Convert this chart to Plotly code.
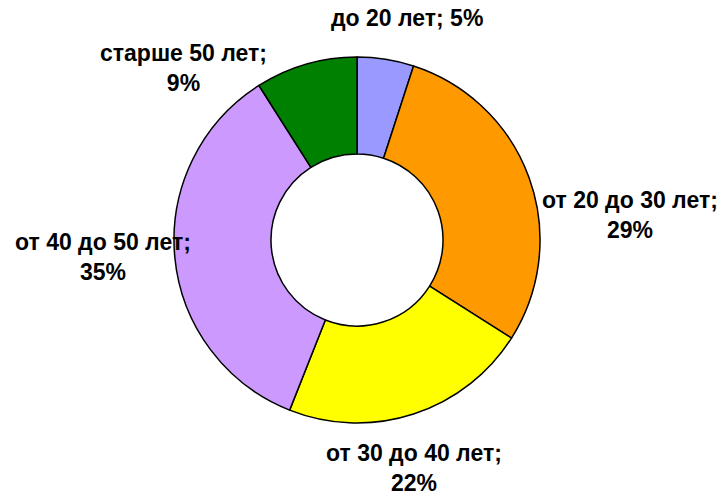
import plotly.graph_objects as go

# Age groups and their shares (%)
age_groups = ["до 20 лет", "от 20 до 30 лет", "от 30 до 40 лет", "от 40 до 50 лет", "старше 50 лет"]
shares = [5, 29, 22, 35, 9]
slice_colors = ["#9999FF", "#FF9900", "#FFFF00", "#CC99FF", "#008000"]

# Label placement (paper coords) and whether the percentage goes on a new line
label_pos = [(407, 18), (630, 215), (414, 468), (103, 257), (183, 68)]
label_break = [False, True, True, True, True]

W, H = 722, 497
cx, cy, r = 357, 240, 183

fig = go.Figure(
    go.Pie(
        labels=age_groups,
        values=shares,
        hole=0.47,
        sort=False,
        direction="clockwise",
        rotation=0,
        marker=dict(colors=slice_colors, line=dict(color="black", width=1.5)),
        textinfo="none",
        hoverinfo="label+percent",
        showlegend=False,
        domain=dict(x=[(cx - r) / W, (cx + r) / W], y=[1 - (cy + r) / H, 1 - (cy - r) / H]),
    )
)

for name, val, (px, py), brk in zip(age_groups, shares, label_pos, label_break):
    sep = ";<br>" if brk else "; "
    fig.add_annotation(
        x=px / W,
        y=1 - py / H,
        xref="paper",
        yref="paper",
        text=f"{name}{sep}{val}%",
        showarrow=False,
        xanchor="center",
        yanchor="middle",
        align="center",
        font=dict(family="Liberation Sans, Arial, sans-serif", size=23, color="black", weight="bold"),
    )

fig.update_layout(
    width=W,
    height=H,
    margin=dict(l=0, r=0, t=0, b=0),
    paper_bgcolor="white",
    plot_bgcolor="white",
)

fig.write_html("out.html")
